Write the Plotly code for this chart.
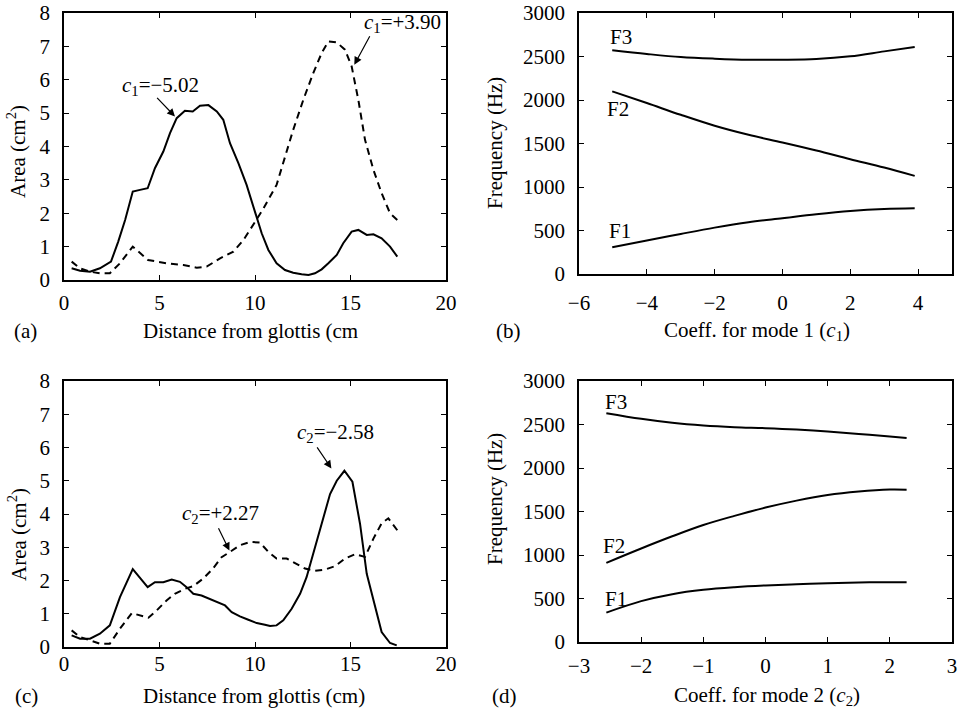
import plotly.graph_objects as go

# ---------------- data ----------------
# (a) area functions, mode 1
xa_neg = [0.4,0.84,1.36,1.88,2.46,2.84,3.2,3.6,3.98,4.38,4.76,5.2,5.55,5.9,6.33,6.74,7.12,7.56,8.0,8.34,8.69,9.13,9.56,10.0,10.35,10.7,11.13,11.57,12.0,12.44,12.8,13.14,13.49,13.84,14.28,14.62,15.06,15.41,15.85,16.2,16.63,17.07,17.45]
ya_neg = [0.35,0.28,0.25,0.35,0.55,1.15,1.8,2.65,2.7,2.75,3.35,3.85,4.4,4.85,5.07,5.05,5.22,5.24,5.05,4.8,4.1,3.5,2.85,2.0,1.4,0.9,0.5,0.3,0.22,0.17,0.15,0.2,0.32,0.5,0.75,1.1,1.45,1.5,1.35,1.37,1.25,1.0,0.7]
xa_pos = [0.4,0.84,1.36,1.88,2.4,2.93,3.6,3.98,4.4,5.37,6.25,6.95,7.47,8.17,8.87,9.4,9.9,10.4,11.13,11.57,12.0,12.53,13.05,13.49,13.84,14.28,14.71,15.06,15.41,15.76,16.2,16.63,17.07,17.45]
ya_pos = [0.55,0.35,0.25,0.2,0.2,0.5,1.0,0.8,0.6,0.5,0.45,0.37,0.4,0.65,0.85,1.2,1.65,2.1,2.85,3.7,4.5,5.4,6.2,6.8,7.15,7.12,6.9,6.4,5.4,4.2,3.3,2.6,2.0,1.8]

# (c) area functions, mode 2
xc_neg = [0.4,0.84,1.36,1.88,2.4,2.93,3.6,3.98,4.38,4.76,5.2,5.64,6.07,6.42,6.77,7.2,7.64,8.08,8.43,8.78,9.21,9.65,10.09,10.52,10.79,11.13,11.48,11.92,12.36,12.7,13.05,13.49,13.93,14.28,14.68,15.1,15.5,15.85,16.28,16.63,17.07,17.42]
yc_neg = [0.35,0.25,0.25,0.4,0.65,1.5,2.34,2.06,1.8,1.95,1.95,2.03,1.96,1.8,1.6,1.55,1.45,1.35,1.25,1.05,0.92,0.82,0.72,0.67,0.63,0.65,0.8,1.15,1.6,2.1,2.8,3.7,4.6,5.0,5.3,4.97,3.7,2.2,1.2,0.45,0.12,0.05]
xc_pos = [0.4,0.84,1.36,1.88,2.4,2.93,3.55,3.98,4.42,4.85,5.37,5.8,6.33,6.77,7.29,7.8,8.25,8.69,9.21,9.74,10.26,10.7,11.13,11.66,12.18,12.62,13.14,13.66,14.19,14.71,15.24,15.76,16.2,16.63,16.98,17.45]
yc_pos = [0.5,0.3,0.2,0.1,0.1,0.55,1.02,0.95,0.88,1.1,1.4,1.6,1.75,1.83,2.06,2.36,2.7,2.86,3.06,3.16,3.14,2.86,2.66,2.66,2.5,2.36,2.29,2.33,2.43,2.66,2.79,2.71,3.26,3.72,3.87,3.51]

# (b) formants vs c1
c1 = [-5.02,-4,-3,-2,-1,0,1,2,3,3.9]
F1_b = [307,384,460,533,595,641,687,725,748,756]
F2_b = [2099,1965,1830,1704,1600,1512,1420,1320,1224,1128]
F3_b = [2571,2529,2494,2475,2463,2463,2471,2502,2559,2609]

# (d) formants vs c2
c2 = [-2.56,-2,-1.5,-1,-0.5,0,0.5,1,1.5,2,2.27]
F1_d = [338,470,550,600,630,650,664,676,684,687,688]
F2_d = [910,1075,1215,1345,1450,1545,1625,1690,1730,1752,1750]
F3_d = [2630,2565,2519,2488,2469,2458,2442,2419,2392,2362,2346]

# ---------------- figure ----------------
W, H = 960, 712
FONT = "Liberation Serif"
FS = 21

def px(v):
    return v / W

def py(v):
    return 1 - v / H

fig = go.Figure()
line_solid = dict(color="black", width=2)
line_dash = dict(color="black", width=2, dash="7px,5px")

fig.add_trace(go.Scatter(x=xa_neg, y=ya_neg, mode="lines", line=line_solid, xaxis="x", yaxis="y"))
fig.add_trace(go.Scatter(x=xa_pos, y=ya_pos, mode="lines", line=line_dash, xaxis="x", yaxis="y"))
for F in (F1_b, F2_b, F3_b):
    fig.add_trace(go.Scatter(x=c1, y=F, mode="lines", line=dict(color="black", width=2, shape="spline"), xaxis="x2", yaxis="y2"))
fig.add_trace(go.Scatter(x=xc_neg, y=yc_neg, mode="lines", line=line_solid, xaxis="x3", yaxis="y3"))
fig.add_trace(go.Scatter(x=xc_pos, y=yc_pos, mode="lines", line=line_dash, xaxis="x3", yaxis="y3"))
for F in (F1_d, F2_d, F3_d):
    fig.add_trace(go.Scatter(x=c2, y=F, mode="lines", line=dict(color="black", width=2, shape="spline"), xaxis="x4", yaxis="y4"))

def axis(domain, rng, dtick, anchor, standoff):
    return dict(domain=domain, range=rng, dtick=dtick, tick0=rng[0], anchor=anchor,
                automargin=False,
                showline=True, linecolor="black", linewidth=1.5, mirror="ticks",
                ticks="inside", ticklen=5, tickcolor="black", tickwidth=1,
                showgrid=False, zeroline=False, ticklabelstandoff=standoff,
                tickfont=dict(family=FONT, size=FS, color="black"))

xa_dom = [px(64), px(446)]
xb_dom = [px(579), px(952)]

fig.update_layout(
    template="none",
    width=W, height=H, margin=dict(l=0, r=0, t=0, b=0, pad=0, autoexpand=False),
    paper_bgcolor="white", plot_bgcolor="white", showlegend=False,
    font=dict(family=FONT, size=FS, color="black"),
    xaxis=axis(xa_dom, [0, 20], 5, "y", 3),
    yaxis=axis([py(280), py(13)], [0, 8], 1, "x", 8),
    xaxis2=axis(xb_dom, [-6, 5], 2, "y2", 9),
    yaxis2=axis([py(274), py(13)], [0, 3000], 500, "x2", 8),
    xaxis3=axis(xa_dom, [0, 20], 5, "y3", -3),
    yaxis3=axis([py(647), py(381)], [0, 8], 1, "x3", 8),
    xaxis4=axis(xb_dom, [-3, 3], 1, "y4", 4),
    yaxis4=axis([py(642), py(381)], [0, 3000], 500, "x4", 8),
)

ann = []
def ptext(text, x, y, angle=0):
    ann.append(dict(text=text, x=px(x), y=py(y), xref="paper", yref="paper",
                    showarrow=False, textangle=angle, xanchor="center", yanchor="middle",
                    font=dict(family=FONT, size=FS, color="black")))

# axis titles
ptext("Area (cm<sup>2</sup>)", 17, 152, -90)
ptext("Area (cm<sup>2</sup>)", 17, 535, -90)
ptext("Frequency (Hz)", 495, 143, -90)
ptext("Frequency (Hz)", 495, 499, -90)
ptext("Distance from glottis (cm", 250, 331)
ptext("Distance from glottis (cm)", 254, 696)
ptext("Coeff. for mode 1 (<i>c</i><sub>1</sub>)", 757, 331)
ptext("Coeff. for mode 2 (<i>c</i><sub>2</sub>)", 767, 696)
# panel letters
ptext("(a)", 25, 331)
ptext("(b)", 508, 331)
ptext("(c)", 26, 696)
ptext("(d)", 505, 696)

def dtext(text, x, y, xr, yr):
    ann.append(dict(text=text, x=x, y=y, xref=xr, yref=yr, showarrow=False,
                    xanchor="center", yanchor="middle",
                    font=dict(family=FONT, size=FS, color="black")))

def arrow(x0, y0, x1, y1, xr, yr):
    ann.append(dict(text="", x=x1, y=y1, ax=x0, ay=y0, xref=xr, yref=yr, axref=xr, ayref=yr,
                    showarrow=True, arrowhead=2, arrowsize=1.3, arrowwidth=1.2, arrowcolor="black"))

dtext("<i>c</i><sub>1</sub>=\u22125.02", 5.05, 5.8, "x", "y")
arrow(4.8, 5.5, 5.81, 4.9, "x", "y")
dtext("<i>c</i><sub>1</sub>=+3.90", 17.7, 7.7, "x", "y")
arrow(16.05, 7.35, 15.2, 6.45, "x", "y")
dtext("<i>c</i><sub>2</sub>=\u22122.58", 14.2, 6.45, "x3", "y3")
arrow(13.2, 6.05, 14.0, 5.37, "x3", "y3")
dtext("<i>c</i><sub>2</sub>=+2.27", 8.2, 4.0, "x3", "y3")
arrow(8.05, 3.62, 8.66, 2.9, "x3", "y3")

# formant labels
dtext("F3", -4.75, 2724, "x2", "y2")
dtext("F2", -4.85, 1899, "x2", "y2")
dtext("F1", -4.78, 490, "x2", "y2")
dtext("F3", -2.40, 2757, "x4", "y4")
dtext("F2", -2.43, 1106, "x4", "y4")
dtext("F1", -2.40, 499, "x4", "y4")

fig.update_layout(annotations=ann)
fig.write_html("out.html")
